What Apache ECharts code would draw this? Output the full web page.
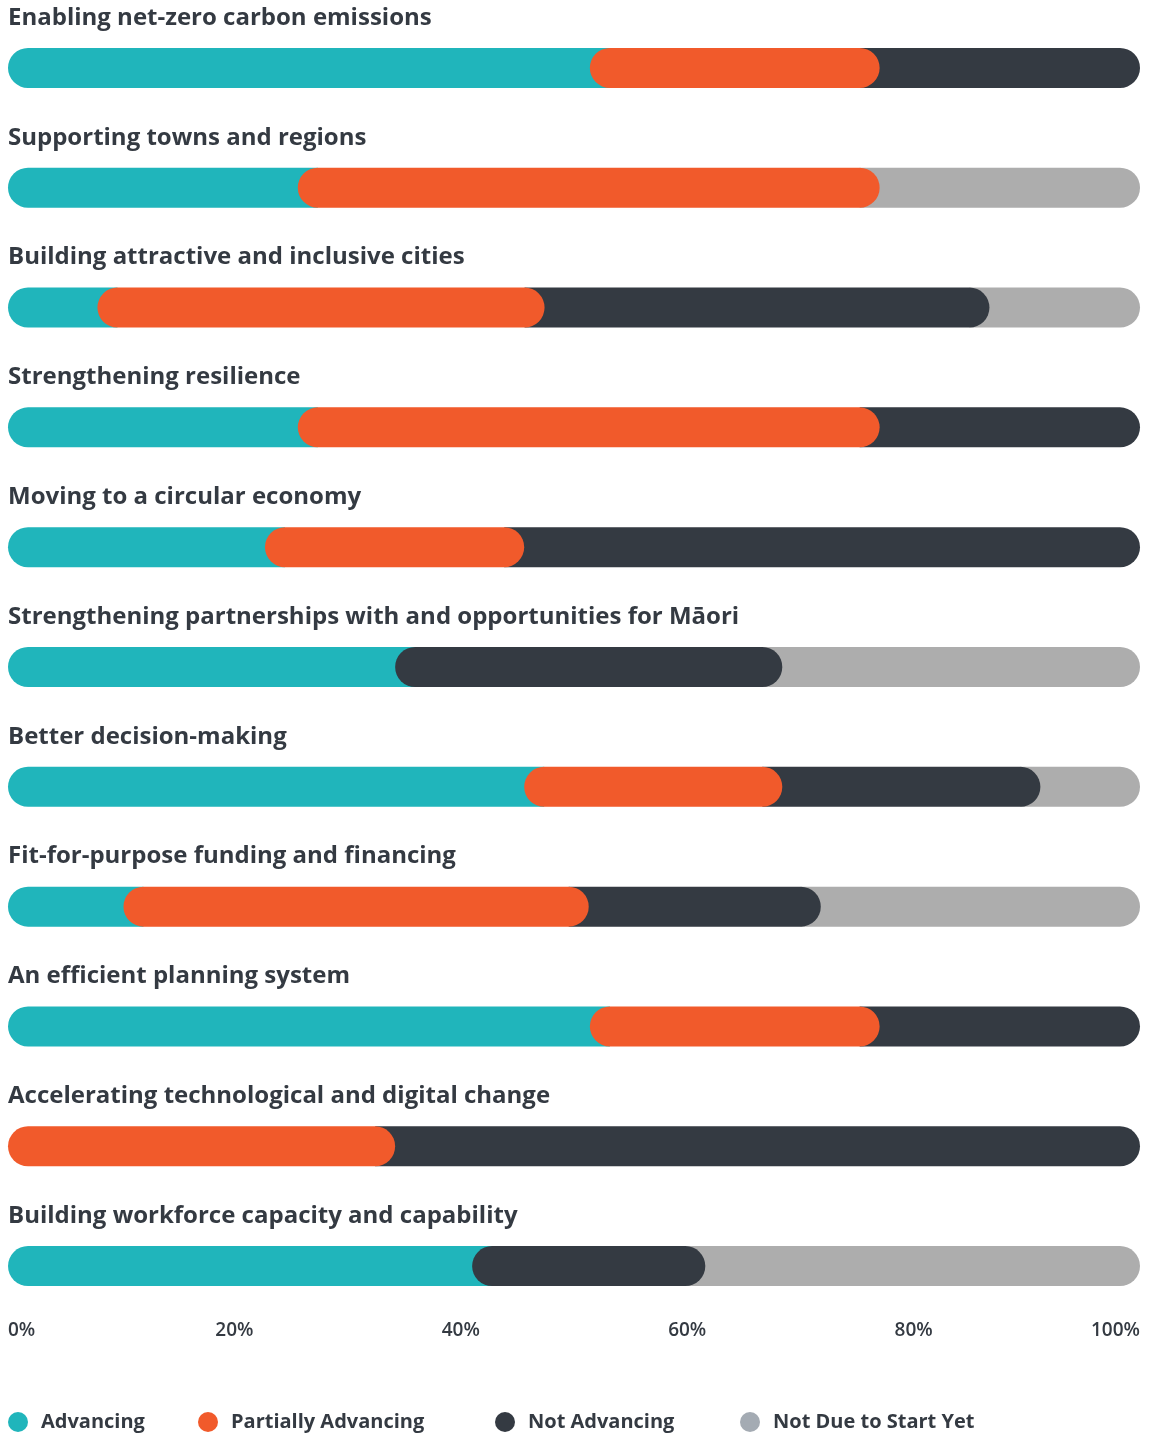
<!DOCTYPE html>
<html>
<head>
<meta charset="utf-8">
<title>Progress by priority</title>
<script src="https://cdn.jsdelivr.net/npm/echarts@6/dist/echarts.min.js"></script>
<style>
  html, body { margin: 0; padding: 0; background: #ffffff; }
  #chart { width: 1152px; height: 1435px; }
</style>
</head>
<body>
<div id="chart"></div>
<script>
// Priority areas, top to bottom
const categories = [
  'Enabling net-zero carbon emissions',
  'Supporting towns and regions',
  'Building attractive and inclusive cities',
  'Strengthening resilience',
  'Moving to a circular economy',
  'Strengthening partnerships with and opportunities for Māori',
  'Better decision-making',
  'Fit-for-purpose funding and financing',
  'An efficient planning system',
  'Accelerating technological and digital change',
  'Building workforce capacity and capability'
];

// Share of actions in each status (% of the row)
const advancing          = [51.4, 25.6,  7.9, 25.6, 22.7, 34.2, 45.6, 10.2, 51.4,  0.0, 41.0];
const partiallyAdvancing = [25.6, 51.4, 39.5, 51.4, 22.9,  0.0, 22.8, 41.1, 25.6, 34.2,  0.0];
const notAdvancing       = [23.0,  0.0, 39.3, 23.0, 54.4, 34.2, 22.8, 20.5, 23.0, 65.8, 20.6];
const notDueToStart      = [ 0.0, 23.0, 13.3,  0.0,  0.0, 31.6,  8.8, 28.2,  0.0,  0.0, 38.4];

const axisTicks = [0, 20, 40, 60, 80, 100];

const statuses = [
  { name: 'Advancing',           values: advancing,          color: '#20b5bb', legendColor: '#20b5bb', z: 3 },
  { name: 'Partially Advancing', values: partiallyAdvancing, color: '#f15a2b', legendColor: '#f15a2b', z: 5 },
  { name: 'Not Advancing',       values: notAdvancing,       color: '#343a42', legendColor: '#343a42', z: 4 },
  { name: 'Not Due to Start Yet',values: notDueToStart,      color: '#adadad', legendColor: '#a4abb3', z: 2 }
];

const TEXT = '#343a42';
const FONT = '"Open Sans", Lato, sans-serif';
const BAR_H = 40;
const R = BAR_H / 2;

// Build segments: each status gets [start, end, row, hideLeft, hideRight].
// A pill end tucks under its neighbour when the neighbour sits above it.
const segData = statuses.map(() => []);
categories.forEach((_, row) => {
  let acc = 0;
  const segs = [];
  statuses.forEach((s, si) => {
    const v = s.values[row];
    if (v > 0) { segs.push({ si, start: acc, end: acc + v }); acc += v; }
  });
  segs.forEach((seg, k) => {
    const left = segs[k - 1], right = segs[k + 1];
    const z = statuses[seg.si].z;
    const hideL = left && statuses[left.si].z > z ? 1 : 0;
    const hideR = right && statuses[right.si].z > z ? 1 : 0;
    segData[seg.si].push([seg.start, seg.end, row, hideL, hideR]);
  });
});

function renderPill(params, api) {
  const start = api.value(0), end = api.value(1), row = api.value(2);
  const hideL = api.value(3), hideR = api.value(4);
  const p0 = api.coord([start, row]);
  const p1 = api.coord([end, row]);
  let x0 = p0[0], x1 = p1[0];
  if (hideL) x0 -= R;
  if (hideR) x1 += R;
  const rl = hideL ? 0 : R, rr = hideR ? 0 : R;
  return {
    type: 'rect',
    shape: { x: x0, y: p0[1] - BAR_H / 2, width: x1 - x0, height: BAR_H, r: [rl, rr, rr, rl] },
    style: { fill: api.visual('color') }
  };
}

const legendLefts = [8, 198, 495, 740];

const chart = echarts.init(document.getElementById('chart'), null, { renderer: 'canvas' });
chart.setOption({
  animation: false,
  backgroundColor: '#ffffff',
  grid: { left: 8, right: 12, top: 8, height: 1318, containLabel: false },
  xAxis: {
    type: 'value',
    min: axisTicks[0],
    max: axisTicks[axisTicks.length - 1],
    interval: axisTicks[1] - axisTicks[0],
    splitLine: { show: false },
    axisLine: { show: false },
    axisTick: { show: false },
    axisLabel: {
      formatter: '{value}%',
      margin: 5,
      verticalAlign: 'middle',
      alignMinLabel: 'left',
      alignMaxLabel: 'right',
      color: TEXT,
      fontFamily: FONT,
      fontWeight: 600,
      fontSize: 19
    }
  },
  yAxis: {
    type: 'category',
    inverse: true,
    data: categories,
    axisLine: { show: false },
    axisTick: { show: false },
    splitLine: { show: false },
    axisLabel: {
      inside: true,
      margin: 0,
      align: 'left',
      verticalAlign: 'bottom',
      padding: [0, 0, 36, 0],
      color: TEXT,
      fontFamily: FONT,
      fontWeight: 'bold',
      fontSize: 24,
      lineHeight: 28
    }
  },
  legend: statuses.map((s, i) => ({
    data: [{ name: s.name, itemStyle: { color: s.legendColor } }],
    left: legendLefts[i],
    top: 1412,
    padding: 0,
    icon: 'circle',
    itemWidth: 20,
    itemHeight: 20,
    selectedMode: false,
    textStyle: {
      color: TEXT,
      fontFamily: FONT,
      fontWeight: 'bold',
      fontSize: 20,
      padding: [0, 0, 0, 8]
    }
  })),
  series: statuses.map((s, i) => ({
    type: 'custom',
    name: s.name,
    z: s.z,
    itemStyle: { color: s.color },
    renderItem: renderPill,
    encode: { x: [0, 1], y: 2 },
    data: segData[i]
  }))
});
</script>
</body>
</html>
